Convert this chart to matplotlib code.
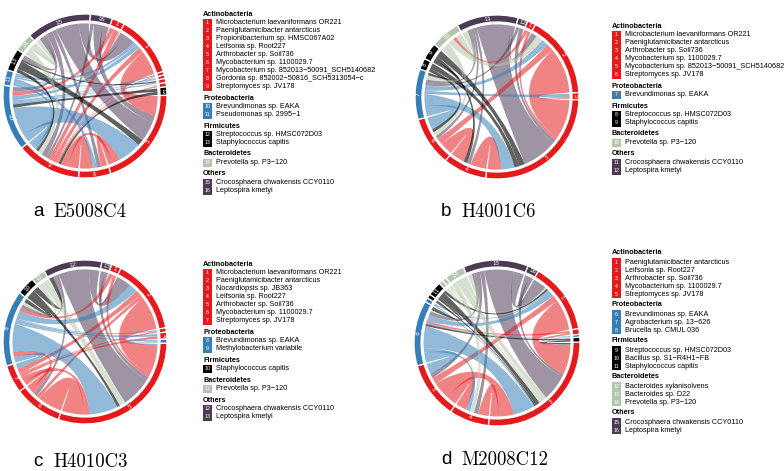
import numpy as np
import matplotlib.pyplot as plt
from matplotlib.patches import Wedge, PathPatch, Rectangle
from matplotlib.path import Path

W, H = 784, 471

group_names = ['Actinobacteria', 'Proteobacteria', 'Firmicutes', 'Bacteroidetes', 'Others']
group_colors = ['#E41A1C', '#377EB8', '#000000', '#B3C6AB', '#4D3A55']

# ---- panel a : E5008C4
a_species = [
    ['Microbacterium laevaniformans OR221', 'Paeniglutamicibacter antarcticus',
     'Propionibacterium sp. HMSC067A02', 'Leifsonia sp. Root227', 'Arthrobacter sp. Soil736',
     'Mycobacterium sp. 1100029.7', 'Mycobacterium sp. 852013\u221250091_SCH5140682',
     'Gordonia sp. 852002\u221250816_SCH5313054\u2212c', 'Streptomyces sp. JV178'],
    ['Brevundimonas sp. EAKA', 'Pseudomonas sp. 2995\u22121'],
    ['Streptococcus sp. HMSC072D03', 'Staphylococcus capitis'],
    ['Prevotella sp. P3\u2212120'],
    ['Crocosphaera chwakensis CCY0110', 'Leptospira kmetyi'],
]
a_order = [16, 1, 2, 3, 4, 7, 8, 12, 5, 6, 9, 10, 11, 13, 14, 15]
a_sizes = [16, 9, 44, 2.5, 2.5, 3, 3, 6, 72, 23, 46, 47, 11, 16, 13, 46]
a_start = 3.6
a_links = [
    (15, 5, 22), (15, 2, 10), (15, 9, 6), (15, 6, 4), (15, 10, 4), (15, 13, 4),
    (16, 5, 8), (16, 2, 5), (16, 9, 3),
    (1, 9, 5), (1, 10, 4),
    (2, 5, 22), (2, 9, 5),
    (10, 2, 4), (11, 2, 3),
    (10, 3, 1.5), (3, 9, 1), (11, 4, 1.5), (10, 4, 1), (10, 7, 1.5), (13, 7, 1.5),
    (8, 9, 1.5), (14, 8, 1.5),
    (12, 10, 3), (12, 9, 3),
    (10, 5, 26), (13, 5, 7), (9, 5, 8), (6, 5, 6),
    (9, 6, 12), (10, 9, 8), (11, 6, 4),
    (14, 9, 5), (14, 15, 4), (13, 9, 3), (11, 9, 3),
]

# ---- panel b : H4001C6
b_species = [
    ['Microbacterium laevaniformans OR221', 'Paeniglutamicibacter antarcticus',
     'Arthrobacter sp. Soil736', 'Mycobacterium sp. 1100029.7',
     'Mycobacterium sp. 852013\u221250091_SCH5140682', 'Streptomyces sp. JV178'],
    ['Brevundimonas sp. EAKA'],
    ['Streptococcus sp. HMSC072D03', 'Staphylococcus capitis'],
    ['Prevotella sp. P3\u2212120'],
    ['Crocosphaera chwakensis CCY0110', 'Leptospira kmetyi'],
]
b_order = [11, 12, 1, 2, 5, 3, 4, 6, 7, 8, 9, 10]
b_sizes = [44, 7, 6, 59, 5, 96, 31, 35, 36, 8, 12, 21]
b_start = 331
b_links = [
    (11, 3, 36), (11, 7, 4), (11, 4, 3), (11, 2, 5), (11, 6, 3),
    (12, 3, 4), (12, 7, 3),
    (1, 3, 3), (1, 10, 3),
    (2, 3, 40), (6, 2, 6),
    (7, 5, 4), (5, 3, 1),
    (4, 3, 14), (4, 6, 12),
    (7, 6, 12), (7, 3, 14), (7, 2, 6),
    (8, 3, 5), (8, 6, 3),
    (9, 3, 6), (9, 7, 3), (9, 4, 3),
    (10, 2, 6), (10, 11, 6), (10, 7, 5), (10, 6, 4),
]

# ---- panel c : H4010C3
c_species = [
    ['Microbacterium laevaniformans OR221', 'Paeniglutamicibacter antarcticus',
     'Nocardiopsis sp. JB363', 'Leifsonia sp. Root227', 'Arthrobacter sp. Soil736',
     'Mycobacterium sp. 1100029.7', 'Streptomyces sp. JV178'],
    ['Brevundimonas sp. EAKA', 'Methylobacterium variabile'],
    ['Staphylococcus capitis'],
    ['Prevotella sp. P3\u2212120'],
    ['Crocosphaera chwakensis CCY0110', 'Leptospira kmetyi'],
]
c_order = [12, 13, 1, 2, 3, 4, 9, 5, 6, 7, 8, 10, 11]
c_sizes = [42, 7, 7, 54, 3, 5, 3, 108, 34, 20, 54, 13, 10]
c_start = 330
c_links = [
    (12, 5, 30), (12, 2, 10), (12, 8, 3), (12, 6, 3),
    (13, 2, 3), (13, 5, 4),
    (1, 5, 3), (1, 8, 4),
    (2, 5, 30), (7, 2, 5), (6, 2, 3),
    (7, 3, 1.5), (8, 3, 1.5), (7, 4, 2.5), (8, 4, 2.5), (9, 5, 1.5), (8, 9, 1.5),
    (6, 5, 22), (6, 8, 5),
    (7, 5, 6), (7, 6, 4),
    (8, 5, 28), (8, 2, 8), (8, 7, 6),
    (10, 8, 4), (10, 12, 4), (10, 5, 3),
    (11, 5, 6), (11, 8, 3),
]

# ---- panel d : M2008C12
d_species = [
    ['Paeniglutamicibacter antarcticus', 'Leifsonia sp. Root227', 'Arthrobacter sp. Soil736',
     'Mycobacterium sp. 1100029.7', 'Streptomyces sp. JV178'],
    ['Brevundimonas sp. EAKA', 'Agrobacterium sp. 13\u2212626', 'Brucella sp. CMUL 036'],
    ['Streptococcus sp. HMSC072D03', 'Bacillus sp. S1\u2212R4H1\u2212FB', 'Staphylococcus capitis'],
    ['Bacteroides xylanisolvens', 'Bacteroides sp. D22', 'Prevotella sp. P3\u2212120'],
    ['Crocosphaera chwakensis CCY0110', 'Leptospira kmetyi'],
]
d_order = [15, 16, 1, 2, 8, 9, 3, 4, 5, 6, 7, 10, 11, 12, 13, 14]
d_sizes = [46, 8, 50, 4, 2, 3.5, 96.5, 28, 40, 46, 3, 3, 10, 3, 3, 14]
d_start = 336
d_links = [
    (15, 3, 28), (15, 1, 10), (15, 4, 4), (15, 6, 4), (15, 5, 4),
    (16, 1, 3), (16, 3, 3),
    (1, 3, 30), (5, 1, 6), (6, 1, 6), (11, 1, 2), (7, 1, 1.5), (13, 1, 1.5),
    (2, 3, 2), (2, 6, 2), (8, 6, 1), (8, 3, 1), (9, 6, 2), (9, 3, 1.5),
    (4, 3, 10), (5, 4, 10), (5, 3, 16),
    (6, 3, 22), (6, 5, 10), (6, 4, 4),
    (7, 3, 1.5), (10, 3, 1.5), (10, 6, 1.5),
    (11, 3, 5), (11, 6, 2),
    (12, 3, 1.5), (12, 6, 1.5), (13, 3, 1.5),
    (14, 3, 6), (14, 4, 4), (14, 15, 4),
]

panels = [
    ('a', 'E5008C4', a_species, a_order, a_sizes, a_start, a_links),
    ('b', 'H4001C6', b_species, b_order, b_sizes, b_start, b_links),
    ('c', 'H4010C3', c_species, c_order, c_sizes, c_start, c_links),
    ('d', 'M2008C12', d_species, d_order, d_sizes, d_start, d_links),
]
# circle centre / radius, legend position, caption position (pixels)
circles = [(85, 96, 82), (497, 97, 82), (85, 342, 82), (497, 343, 83)]
legend_xy = [(203, 14), (612, 26), (203, 264), (612, 253)]
caption_xy = [(33, 212), (441, 212), (33, 462), (441, 460)]

R_IN, R_LINK = 0.915, 0.885


def pt(r, th):
    t = np.radians(th)
    return (r * np.sin(t), r * np.cos(t))


def ctrl(t1, t2):
    d = (t2 - t1) % 360
    if d > 180:
        d = 360 - d
        mid = t2 + d / 2
    else:
        mid = t1 + d / 2
    return pt(R_LINK * (1 - d / 180) * 0.15, mid)


def ribbon(ax, a1, a2, b1, b2, color, alpha):
    n = 12
    verts = [pt(R_LINK, t) for t in np.linspace(a1, a2, n)]
    codes = [Path.MOVETO] + [Path.LINETO] * (n - 1)
    verts += [ctrl(a2, b1), pt(R_LINK, b1)]
    codes += [Path.CURVE3, Path.CURVE3]
    verts += [pt(R_LINK, t) for t in np.linspace(b1, b2, n)[1:]]
    codes += [Path.LINETO] * (n - 1)
    verts += [ctrl(b2, a1), pt(R_LINK, a1), (0, 0)]
    codes += [Path.CURVE3, Path.CURVE3, Path.CLOSEPOLY]
    ax.add_patch(PathPatch(Path(verts, codes), facecolor=color, edgecolor='none',
                           alpha=alpha, zorder=2))


def draw_chord(ax, species, order, sizes, start, links):
    colors = {}
    k = 1
    for g, names in enumerate(species):
        for _ in names:
            colors[k] = group_colors[g]
            k += 1
    span = {}
    a = start
    for s, size in zip(order, sizes):
        span[s] = (a, a + size)
        a += size
    mid = {s: (span[s][0] + span[s][1]) / 2 for s in span}

    # split each segment between the links that touch it
    ends = {s: [] for s in order}
    for i, (p, q, v) in enumerate(links):
        ends[p].append((i, q, v))
        ends[q].append((i, p, v))
    place = {}
    gap = 0.5
    for s in order:
        lst = sorted(ends[s], key=lambda e: -((mid[e[1]] - mid[s]) % 360))
        tot = sum(e[2] for e in lst)
        s0, s1 = span[s][0] + gap, span[s][1] - gap
        sc = (s1 - s0) / tot if tot else 0
        cur = s0
        for i, other, v in lst:
            place[(i, s)] = (cur, cur + v * sc)
            cur += v * sc

    for i, (p, q, v) in enumerate(links):
        a1, a2 = place[(i, p)]
        b1, b2 = place[(i, q)]
        col = colors[p]
        alpha = 0.62 if col == '#000000' else 0.54
        ribbon(ax, a1, a2, b1, b2, col, alpha)

    for s in order:
        t1, t2 = span[s]
        ax.add_patch(Wedge((0, 0), 1.0, 90 - t2, 90 - t1, width=1.0 - R_IN,
                           facecolor=colors[s], edgecolor='white', lw=0.9, zorder=3))
        if t2 - t1 >= 4.5:
            m = (t1 + t2) / 2
            x, y = pt((1 + R_IN) / 2, m)
            rot = -m if (m % 360) < 90 or (m % 360) > 270 else 180 - m
            ax.text(x, y, str(s), color='white', fontsize=4.2, rotation=rot,
                    ha='center', va='center', zorder=4)


fig = plt.figure(figsize=(W / 100, H / 100), dpi=100)

for idx, (letter, sample, species, order, sizes, start, links) in enumerate(panels):
    cx, cy, r = circles[idx]
    ax = fig.add_axes([(cx - r) / W, 1 - (cy + r) / H, 2 * r / W, 2 * r / H])
    ax.set_xlim(-1, 1)
    ax.set_ylim(-1, 1)
    ax.axis('off')
    draw_chord(ax, species, order, sizes, start, links)

    # legend
    lx, ly = legend_xy[idx]
    y = ly
    num = 1
    for g, names in enumerate(species):
        fig.text(lx / W, 1 - y / H, group_names[g], fontsize=5.2, fontweight='bold',
                 family='Liberation Sans', va='center', ha='left')
        y += 9
        for name in names:
            fig.patches.append(Rectangle((lx / W, 1 - (y + 3.6) / H), 9 / W, 7.2 / H,
                                         transform=fig.transFigure, facecolor=group_colors[g],
                                         edgecolor='none'))
            fig.text((lx + 4.5) / W, 1 - y / H, str(num), fontsize=3.8, color='white',
                     family='Liberation Sans', va='center', ha='center')
            fig.text((lx + 13) / W, 1 - y / H, name, fontsize=5.2,
                     family='Liberation Sans', va='center', ha='left')
            num += 1
            y += 8
        y += 3

    # caption
    px, py = caption_xy[idx]
    fig.text(px / W, 1 - py / H, letter, fontsize=13.5, family='Liberation Sans',
             va='center', ha='left')
    fig.text((px + 20) / W, 1 - py / H, sample, fontsize=13.5, family='cmr10',
             va='center', ha='left')

fig.savefig('out.png', dpi=100)
